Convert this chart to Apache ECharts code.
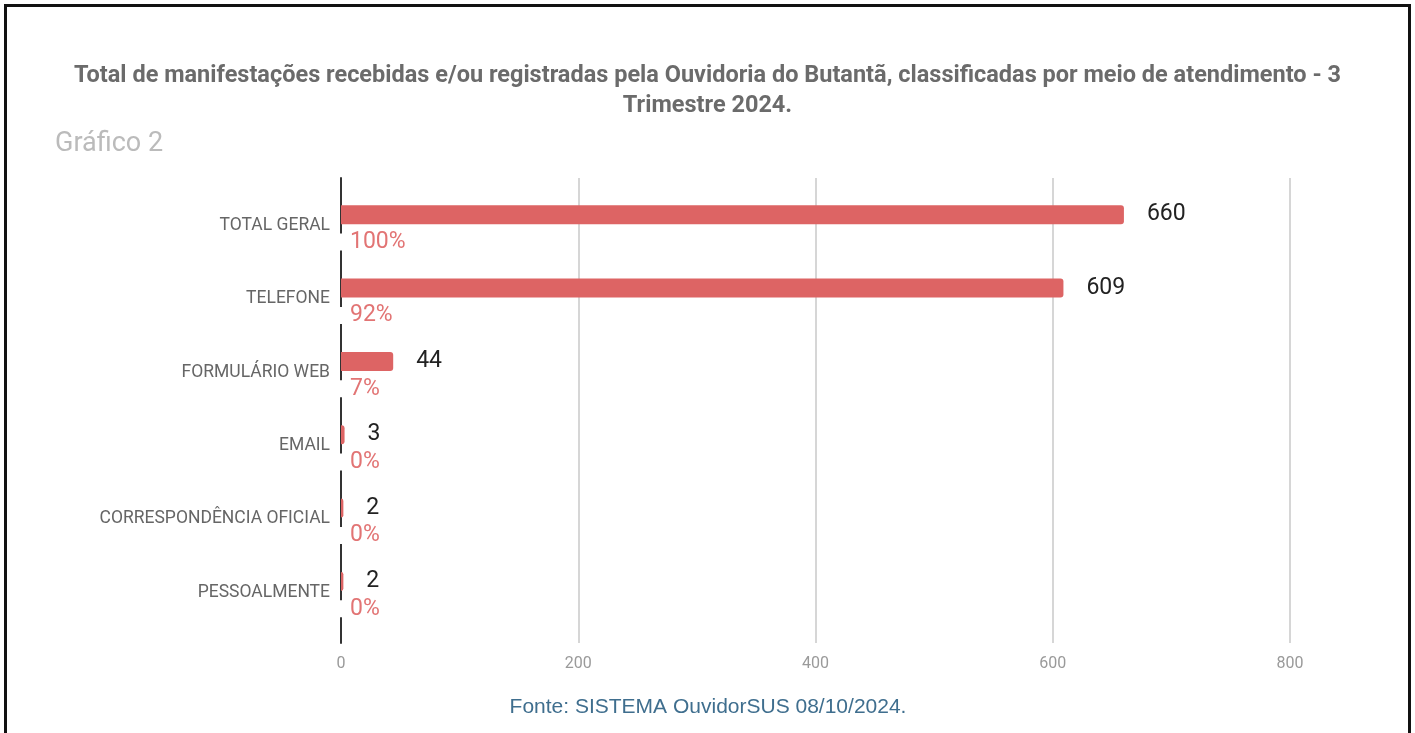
<!DOCTYPE html>
<html>
<head>
<meta charset="utf-8">
<script src="https://cdn.jsdelivr.net/npm/echarts@6/dist/echarts.min.js"></script>
<style>
  html, body { margin: 0; padding: 0; background: #fff; }
  .frame {
    position: absolute; left: 4px; top: 4px; width: 1401px; height: 740px;
    border: 3px solid #111; border-bottom: none;
  }
  #chart { position: absolute; left: 0; top: 0; width: 1415px; height: 733px; }
</style>
</head>
<body>
<div class="frame"></div>
<div id="chart"></div>
<script>
// categorias (meio de atendimento)
const categories = [
  "TOTAL GERAL",
  "TELEFONE",
  "FORMULÁRIO WEB",
  "EMAIL",
  "CORRESPONDÊNCIA OFICIAL",
  "PESSOALMENTE",
];
// quantidades
const counts = [660, 609, 44, 3, 2, 2];
// percentuais mostrados abaixo das barras
const percents = ["100%", "92%", "7%", "0%", "0%", "0%"];
// eixo x
const xMin = 0;
const xMax = 800;
const xStep = 200;

const font = "Roboto, 'Noto Sans', sans-serif";
const barColor = "#dd6464";

const chart = echarts.init(document.getElementById("chart"));

const option = {
  animation: false,
  title: [
    {
      text: "Total de manifestações recebidas e/ou registradas pela Ouvidoria do Butantã, classificadas por meio de atendimento - 3\nTrimestre 2024.",
      left: "center",
      top: 56,
      textStyle: {
        fontFamily: font,
        fontSize: 23.5,
        fontWeight: "bold",
        color: "#6b6b6b",
        lineHeight: 30,
      },
    },
    {
      text: "Gráfico 2",
      left: 50,
      top: 126,
      textStyle: { fontFamily: font, fontSize: 27, fontWeight: "normal", color: "#bbbbbb" },
    },
    {
      text: "Fonte: SISTEMA OuvidorSUS 08/10/2024.",
      left: 703,
      top: 692,
      textAlign: "center",
      textStyle: { fontFamily: "'Liberation Sans', Arial, sans-serif", fontSize: 21, fontWeight: "normal", color: "#3f6e8e" },
    },
  ],
  grid: [
    // grade decorativa (linhas de grade e eixo vertical)
    { left: 341, right: 125, top: 178, bottom: 90 },
    // grade dos dados
    { left: 341, right: 125, top: 189, bottom: 104 },
  ],
  xAxis: [
    {
      gridIndex: 0,
      type: "value",
      min: xMin,
      max: xMax,
      interval: xStep,
      axisLine: { show: false },
      axisTick: { show: false },
      axisLabel: { color: "#9a9a9a", fontSize: 16, fontFamily: font, margin: 13 },
      splitLine: { show: true, lineStyle: { color: "#d6d6d6", width: 2 } },
    },
    {
      gridIndex: 1,
      type: "value",
      min: xMin,
      max: xMax,
      show: false,
    },
  ],
  yAxis: [
    {
      gridIndex: 0,
      type: "value",
      min: 0,
      max: 1,
      axisLine: { show: true, lineStyle: { color: "#333", width: 2 } },
      axisTick: { show: false },
      axisLabel: { show: false },
      splitLine: { show: false },
    },
    {
      gridIndex: 1,
      type: "category",
      inverse: true,
      data: categories,
      axisLine: { show: false },
      axisTick: { show: false },
      axisLabel: { color: "#666", fontSize: 17.5, fontFamily: font, margin: 11 },
    },
  ],
  series: [
    {
      type: "bar",
      xAxisIndex: 1,
      yAxisIndex: 1,
      barWidth: 19,
      barGap: "15%",
      itemStyle: { color: barColor, borderRadius: [0, 3, 3, 0] },
      label: {
        show: true,
        position: "right",
        distance: 23,
        color: "#222",
        fontSize: 23,
        fontFamily: font,
      },
      data: counts,
    },
    {
      // barra invisível só para posicionar o percentual
      type: "bar",
      xAxisIndex: 1,
      yAxisIndex: 1,
      barWidth: 19,
      silent: true,
      itemStyle: { color: "rgba(0,0,0,0)" },
      label: {
        show: true,
        position: [-3, 15],
        align: "left",
        verticalAlign: "middle",
        color: "#e27474",
        fontSize: 23,
        lineHeight: 17,
        fontFamily: font,
        backgroundColor: "#fff",
        padding: [0, 0, 0, 12],
        formatter: (p) => percents[p.dataIndex],
      },
      data: counts,
    },
  ],
};

chart.setOption(option);
</script>
</body>
</html>
